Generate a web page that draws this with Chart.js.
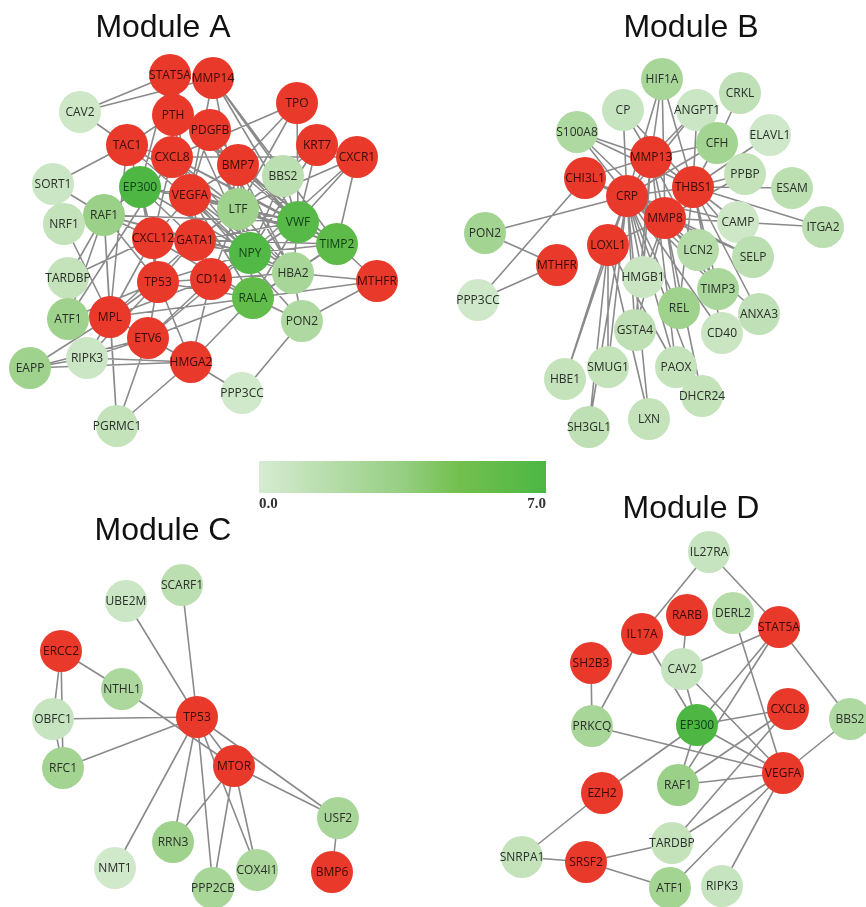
<!DOCTYPE html>
<html>
<head>
<meta charset="utf-8">
<script src="https://cdn.jsdelivr.net/npm/chart.js@4.4.1/dist/chart.umd.min.js"></script>
<style>
  html, body { margin: 0; padding: 0; background: #fff; }
  #wrap { width: 866px; height: 907px; position: relative; }
</style>
</head>
<body>
<div id="wrap"><canvas id="net"></canvas></div>
<script>
// Gene networks, 4 modules. score = null -> red (seed gene), otherwise green scale 0..7
const SCORE_MIN = 0.0;
const SCORE_MAX = 7.0;
const SCALE_TICKS = ['0.0', '7.0'];
const MODULE_TITLES = ['Module A', 'Module B', 'Module C', 'Module D'];

// ---- Module A
const A_GENES = ['STAT5A','MMP14','CAV2','PTH','TPO','PDGFB','KRT7','CXCR1','TAC1','CXCL8','BMP7','BBS2','SORT1','EP300','VEGFA','RAF1','NRF1','LTF','VWF','CXCL12','GATA1','NPY','TIMP2','TARDBP','TP53','CD14','HBA2','MTHFR','RALA','ATF1','MPL','PON2','ETV6','RIPK3','EAPP','HMGA2','PPP3CC','PGRMC1'];
const A_X = [170,213,80,173,297,210,317,357,127,172,238,283,53,140,190,104,64,238,298,153,195,250,337,68,158,211,293,377,253,68,110,302,148,87,30,191,242,117];
const A_Y = [75,78,112,115,103,130,145,157,145,157,165,176,184,187,195,215,224,209,222,238,240,253,244,278,282,279,273,281,298,319,317,321,338,358,368,362,393,426];
const A_SCORE = [null,null,0.5,null,null,null,null,null,null,null,null,1.5,0.6,6.9,null,3.3,1.0,3.0,6.4,null,null,6.6,6.0,1.0,null,null,2.5,null,5.8,3.0,null,2.2,null,0.6,3.0,null,0.3,1.0];
const A_EDGES = [
  ['CAV2','STAT5A'],['CAV2','MMP14'],['CAV2','TAC1'],['SORT1','TAC1'],['SORT1','RAF1'],['NRF1','MPL'],['NRF1','RAF1'],
  ['TARDBP','CXCL12'],['TARDBP','RAF1'],['ATF1','TP53'],['ATF1','CXCL8'],['ATF1','RAF1'],
  ['EAPP','RIPK3'],['EAPP','MPL'],['EAPP','HMGA2'],['EAPP','ETV6'],['RIPK3','MPL'],['RIPK3','ETV6'],['RIPK3','HMGA2'],['RIPK3','TP53'],
  ['PGRMC1','MPL'],['PGRMC1','ETV6'],['PGRMC1','HMGA2'],['PGRMC1','RAF1'],['PPP3CC','PON2'],['PPP3CC','HMGA2'],
  ['PON2','MTHFR'],['PON2','RALA'],['PON2','HBA2'],['PON2','VEGFA'],['MTHFR','HBA2'],['MTHFR','TIMP2'],['MTHFR','RALA'],
  ['TPO','BMP7'],['TPO','VWF'],['TPO','LTF'],['TPO','CXCL8'],['KRT7','VWF'],['KRT7','BBS2'],['KRT7','NPY'],
  ['CXCR1','VWF'],['CXCR1','LTF'],['CXCR1','CXCL8'],['CXCR1','TIMP2'],['CXCR1','NPY'],
  ['MMP14','VWF'],['MMP14','TIMP2'],['MMP14','VEGFA'],['MMP14','BBS2'],['MMP14','LTF'],
  ['STAT5A','VEGFA'],['STAT5A','EP300'],['STAT5A','NPY'],['STAT5A','PTH'],
  ['PTH','BMP7'],['PTH','VWF'],['PTH','GATA1'],['PTH','TAC1'],['PTH','TIMP2'],
  ['PDGFB','VEGFA'],['PDGFB','NPY'],['PDGFB','LTF'],['PDGFB','VWF'],['PDGFB','HBA2'],
  ['TAC1','CXCL8'],['TAC1','NPY'],['TAC1','EP300'],['TAC1','MPL'],['TAC1','LTF'],
  ['CXCL8','VEGFA'],['CXCL8','CXCL12'],['CXCL8','LTF'],['CXCL8','VWF'],['CXCL8','NPY'],['CXCL8','TIMP2'],['CXCL8','HBA2'],
  ['BMP7','VEGFA'],['BMP7','LTF'],['BMP7','NPY'],['BMP7','TIMP2'],['BMP7','HBA2'],['BMP7','VWF'],
  ['EP300','RAF1'],['EP300','VEGFA'],['EP300','CXCL12'],['EP300','GATA1'],['EP300','NPY'],['EP300','TP53'],['EP300','LTF'],
  ['VEGFA','LTF'],['VEGFA','NPY'],['VEGFA','VWF'],['VEGFA','TIMP2'],['VEGFA','HBA2'],['VEGFA','CD14'],['VEGFA','GATA1'],['VEGFA','CXCL12'],['VEGFA','RALA'],
  ['RAF1','CXCL12'],['RAF1','TP53'],['RAF1','NPY'],['RAF1','VWF'],['RAF1','MPL'],['RAF1','GATA1'],
  ['LTF','VWF'],['LTF','NPY'],['LTF','TIMP2'],['LTF','HBA2'],['LTF','GATA1'],['LTF','CD14'],
  ['VWF','NPY'],['VWF','TIMP2'],['VWF','HBA2'],['VWF','CD14'],['VWF','GATA1'],['VWF','RALA'],
  ['CXCL12','GATA1'],['CXCL12','TP53'],['CXCL12','NPY'],['CXCL12','MPL'],['CXCL12','RALA'],
  ['GATA1','NPY'],['GATA1','TP53'],['GATA1','CD14'],['GATA1','TIMP2'],['GATA1','MPL'],['GATA1','HBA2'],
  ['NPY','TIMP2'],['NPY','HBA2'],['NPY','CD14'],['NPY','RALA'],['NPY','ETV6'],['NPY','TP53'],
  ['TIMP2','HBA2'],['TIMP2','RALA'],['TP53','CD14'],['TP53','MPL'],['TP53','ETV6'],['TP53','HMGA2'],['TP53','RALA'],
  ['CD14','RALA'],['CD14','ETV6'],['CD14','HMGA2'],['CD14','MPL'],['HBA2','RALA'],['HBA2','CD14'],
  ['RALA','MPL'],['RALA','ETV6'],['RALA','HMGA2'],['MPL','ETV6'],['MPL','HMGA2'],['ETV6','HMGA2'],
  ['BBS2','LTF'],['BBS2','VWF'],['BBS2','NPY']
];

// ---- Module B
const B_GENES = ['HIF1A','CP','ANGPT1','CRKL','S100A8','CFH','ELAVL1','MMP13','CHI3L1','CRP','THBS1','PPBP','ESAM','MMP8','CAMP','ITGA2','PON2','LOXL1','LCN2','SELP','MTHFR','HMGB1','TIMP3','REL','ANXA3','PPP3CC','GSTA4','CD40','SMUG1','PAOX','HBE1','DHCR24','LXN','SH3GL1'];
const B_X = [662,623,697,740,577,717,770,651,585,627,693,745,792,665,738,823,485,608,698,753,557,643,718,679,759,478,635,722,608,676,565,702,649,589];
const B_Y = [79,110,110,93,132,143,135,157,178,196,187,174,188,218,222,227,233,245,250,257,265,277,289,308,314,300,330,333,367,367,379,396,419,427];
const B_SCORE = [2.5,0.8,0.6,1.2,2.2,2.8,0.4,null,null,null,null,1.0,1.4,null,0.5,1.4,2.8,null,1.8,1.4,null,0.7,2.4,3.0,1.2,0.4,1.3,0.7,1.0,1.0,1.0,1.0,1.0,1.3];
const B_EDGES = [
  ['PON2','CRP'],['PON2','MTHFR'],['PPP3CC','MTHFR'],['PPP3CC','CHI3L1'],
  ['HIF1A','MMP13'],['HIF1A','CRP'],['HIF1A','THBS1'],['HIF1A','MMP8'],
  ['CP','MMP13'],['CP','CRP'],['CP','THBS1'],
  ['S100A8','MMP13'],['S100A8','CRP'],['S100A8','MMP8'],['S100A8','THBS1'],
  ['ANGPT1','MMP13'],['ANGPT1','THBS1'],['ANGPT1','CRP'],['CRKL','CFH'],
  ['CFH','MMP13'],['CFH','THBS1'],['CFH','CRP'],['ELAVL1','THBS1'],
  ['PPBP','THBS1'],['PPBP','MMP8'],['ESAM','THBS1'],['ITGA2','THBS1'],['ITGA2','MMP8'],
  ['CAMP','THBS1'],['CAMP','MMP8'],['CAMP','CRP'],
  ['LCN2','MMP8'],['LCN2','CRP'],['LCN2','MMP13'],['SELP','THBS1'],['SELP','MMP8'],['SELP','CRP'],
  ['TIMP3','MMP13'],['TIMP3','MMP8'],['TIMP3','CRP'],['TIMP3','THBS1'],
  ['ANXA3','THBS1'],['ANXA3','CRP'],['CD40','CRP'],['CD40','THBS1'],
  ['REL','MMP8'],['REL','CRP'],['REL','THBS1'],['HMGB1','CRP'],['HMGB1','MMP8'],['HMGB1','MMP13'],
  ['GSTA4','CRP'],['GSTA4','MMP13'],['GSTA4','MMP8'],['PAOX','CRP'],['PAOX','LOXL1'],['PAOX','MMP13'],
  ['DHCR24','CRP'],['DHCR24','MMP8'],['LXN','CRP'],['LXN','LOXL1'],
  ['SMUG1','CRP'],['SMUG1','LOXL1'],['HBE1','CRP'],['HBE1','LOXL1'],['SH3GL1','CRP'],['SH3GL1','LOXL1'],
  ['CRP','MMP13'],['CRP','THBS1'],['CRP','MMP8'],['CRP','CHI3L1'],['CRP','LOXL1'],
  ['MMP13','THBS1'],['MMP13','MMP8'],['THBS1','MMP8'],['CHI3L1','MMP13'],['CHI3L1','MMP8'],['LOXL1','MMP8']
];

// ---- Module C
const C_GENES = ['SCARF1','UBE2M','ERCC2','NTHL1','OBFC1','TP53','RFC1','MTOR','USF2','RRN3','NMT1','COX4I1','PPP2CB','BMP6'];
const C_X = [182,126,61,122,53,197,63,234,338,173,115,257,213,332];
const C_Y = [585,601,651,689,719,717,768,766,818,842,868,870,888,872];
const C_SCORE = [1.5,0.6,null,2.3,0.8,null,2.8,null,2.5,3.0,0.3,2.3,2.5,null];
const C_EDGES = [
  ['UBE2M','TP53'],['SCARF1','TP53'],['ERCC2','NTHL1'],['ERCC2','OBFC1'],['ERCC2','RFC1'],
  ['OBFC1','RFC1'],['OBFC1','TP53'],['RFC1','TP53'],['NTHL1','MTOR'],['TP53','MTOR'],
  ['TP53','USF2'],['MTOR','USF2'],['TP53','NMT1'],['TP53','RRN3'],['TP53','PPP2CB'],['TP53','COX4I1'],
  ['MTOR','RRN3'],['MTOR','PPP2CB'],['MTOR','COX4I1'],['USF2','BMP6']
];

// ---- Module D
const D_GENES = ['IL27RA','RARB','DERL2','STAT5A','IL17A','SH2B3','CAV2','CXCL8','BBS2','PRKCQ','EP300','VEGFA','RAF1','EZH2','TARDBP','SNRPA1','SRSF2','ATF1','RIPK3'];
const D_X = [709,687,733,779,642,591,682,788,850,592,697,783,678,602,672,522,586,670,722];
const D_Y = [552,615,613,627,634,663,669,709,719,726,725,773,785,793,843,857,862,888,886];
const D_SCORE = [0.8,null,1.8,null,null,null,0.8,null,2.2,2.5,6.9,null,3.2,null,1.0,1.0,null,2.8,0.8];
const D_EDGES = [
  ['IL27RA','IL17A'],['IL27RA','STAT5A'],['IL17A','PRKCQ'],['IL17A','EP300'],['RARB','CAV2'],
  ['CAV2','EP300'],['CAV2','STAT5A'],['CAV2','VEGFA'],['SH2B3','PRKCQ'],['STAT5A','BBS2'],
  ['STAT5A','EP300'],['STAT5A','RAF1'],['DERL2','VEGFA'],['CXCL8','EP300'],['CXCL8','RAF1'],
  ['CXCL8','TARDBP'],['EP300','VEGFA'],['EP300','RAF1'],['PRKCQ','VEGFA'],['RAF1','VEGFA'],
  ['BBS2','VEGFA'],['VEGFA','TARDBP'],['VEGFA','ATF1'],['VEGFA','RIPK3'],['EZH2','EP300'],
  ['EZH2','SNRPA1'],['SNRPA1','SRSF2'],['SRSF2','TARDBP'],['SRSF2','ATF1']
];

const RED = '#e8392b';
const EDGE_COLOR = '#8a8a8a';
const GREEN_STOPS = [
  [0.0, [214, 235, 210]],
  [0.5, [150, 206, 130]],
  [0.7, [115, 191, 78]],
  [1.0, [76, 183, 68]]
];

function greenAt(t) {
  t = Math.max(0, Math.min(1, t));
  for (let i = 1; i < GREEN_STOPS.length; i++) {
    const [t1, c1] = GREEN_STOPS[i];
    const [t0, c0] = GREEN_STOPS[i - 1];
    if (t <= t1) {
      const f = (t - t0) / (t1 - t0);
      const c = c0.map((v, k) => Math.round(v + (c1[k] - v) * f));
      return `rgb(${c[0]},${c[1]},${c[2]})`;
    }
  }
  return 'rgb(76,183,68)';
}

function nodeColor(s) {
  if (s === null) return RED;
  return greenAt((s - SCORE_MIN) / (SCORE_MAX - SCORE_MIN));
}

function textColor(s) {
  if (s === null) return '#3d0906';
  if (s > 5) return '#0f3d12';
  return '#2a2f2a';
}

function buildModule(genes, xs, ys, scores, edges) {
  const pts = genes.map((g, i) => ({ x: xs[i], y: ys[i], gene: g, score: scores[i] }));
  const idx = {};
  genes.forEach((g, i) => idx[g] = i);
  const segs = [];
  edges.forEach(([a, b]) => {
    const i = idx[a], j = idx[b];
    if (i === undefined || j === undefined) return;
    segs.push({ x: xs[i], y: ys[i] }, { x: xs[j], y: ys[j] }, { x: null, y: null });
  });
  return [
    {
      type: 'line', data: segs, order: 2,
      borderColor: EDGE_COLOR, borderWidth: 1.6, pointRadius: 0,
      spanGaps: false, fill: false, tension: 0, clip: false
    },
    {
      type: 'scatter', data: pts, order: 0, isNodes: true,
      pointRadius: 21, pointHoverRadius: 21, borderWidth: 0,
      backgroundColor: scores.map(nodeColor), clip: false
    }
  ];
}

const datasets = [
  ...buildModule(A_GENES, A_X, A_Y, A_SCORE, A_EDGES),
  ...buildModule(B_GENES, B_X, B_Y, B_SCORE, B_EDGES),
  ...buildModule(C_GENES, C_X, C_Y, C_SCORE, C_EDGES),
  ...buildModule(D_GENES, D_X, D_Y, D_SCORE, D_EDGES)
];

// labels, titles and colour bar
const decorPlugin = {
  id: 'decor',
  afterDatasetsDraw(chart) {
    const ctx = chart.ctx;
    ctx.save();
    ctx.textAlign = 'center';
    ctx.textBaseline = 'middle';
    ctx.font = '12px "Open Sans", "Noto Sans", sans-serif';
    chart.data.datasets.forEach((ds, di) => {
      if (!ds.isNodes) return;
      const meta = chart.getDatasetMeta(di);
      meta.data.forEach((el, i) => {
        const p = ds.data[i];
        ctx.fillStyle = textColor(p.score);
        ctx.fillText(p.gene, el.x, el.y + 0.5);
      });
    });

    // module titles
    const xs = chart.scales.x, ys = chart.scales.y;
    const titlePos = [[163, 37], [691, 37], [163, 540], [691, 518]];
    ctx.font = '32px "Liberation Sans", Arial, sans-serif';
    ctx.fillStyle = '#111';
    ctx.textBaseline = 'alphabetic';
    MODULE_TITLES.forEach((t, i) => {
      ctx.fillText(t, xs.getPixelForValue(titlePos[i][0]), ys.getPixelForValue(titlePos[i][1]));
    });

    // colour bar
    const x0 = xs.getPixelForValue(259), x1 = xs.getPixelForValue(546);
    const y0 = ys.getPixelForValue(461), y1 = ys.getPixelForValue(493);
    const g = ctx.createLinearGradient(x0, 0, x1, 0);
    GREEN_STOPS.forEach(([t]) => g.addColorStop(t, greenAt(t)));
    ctx.fillStyle = g;
    ctx.fillRect(x0, y0, x1 - x0, y1 - y0);
    ctx.font = 'bold 15px "Liberation Serif", "DejaVu Serif", serif';
    ctx.fillStyle = '#333';
    ctx.textAlign = 'left';
    ctx.fillText(SCALE_TICKS[0], x0, y1 + 15);
    ctx.textAlign = 'right';
    ctx.fillText(SCALE_TICKS[1], x1, y1 + 15);
    ctx.restore();
  }
};

new Chart(document.getElementById('net'), {
  type: 'scatter',
  data: { datasets },
  options: {
    responsive: true,
    maintainAspectRatio: false,
    animation: false,
    layout: { padding: 0, autoPadding: false },
    plugins: { legend: { display: false }, tooltip: { enabled: false } },
    scales: {
      x: { type: 'linear', min: 0, max: 866, display: false },
      y: { type: 'linear', min: 0, max: 907, reverse: true, display: false }
    }
  },
  plugins: [decorPlugin]
});
</script>
</body>
</html>
